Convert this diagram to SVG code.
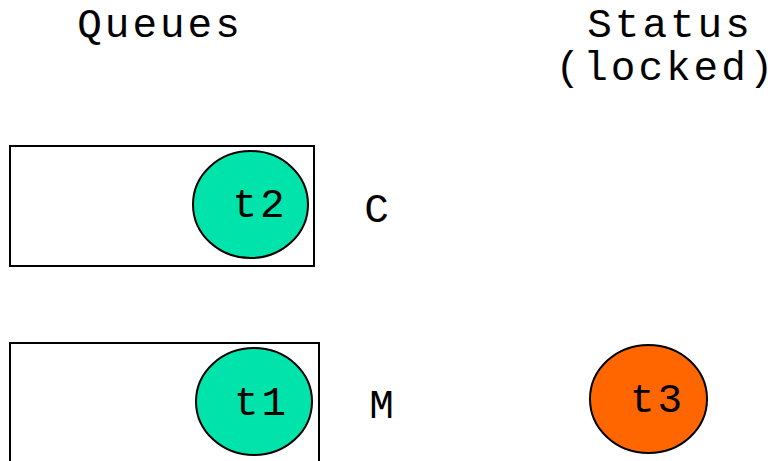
<svg xmlns="http://www.w3.org/2000/svg" width="777" height="461" viewBox="0 0 777 461">
  <style>
    .lbl { font-family: "Liberation Mono", "Courier New", monospace; font-size: 41px; letter-spacing: 3px; fill: #000; text-anchor: middle; }
    .queue { fill: #fff; stroke: #000; stroke-width: 2; }
    .tok { stroke: #000; stroke-width: 2; }
    .wait { fill: #00E3AA; }
    .held { fill: #FF6600; }
  </style>
  <rect width="777" height="461" fill="#fff"/>

  <!-- column headings (x shifted by half the letter-spacing) -->
  <g id="heading-queues">
    <text class="lbl" x="160" y="37">Queues</text>
  </g>
  <g id="heading-status">
    <text class="lbl" x="670" y="37">Status</text>
    <text class="lbl" x="666" y="80">(locked)</text>
  </g>

  <!-- queue C -->
  <g id="queue-c">
    <rect class="queue" x="10" y="146" width="304" height="120"/>
    <text class="lbl" x="378" y="222">C</text>
  </g>
  <g id="t2">
    <ellipse class="tok wait" cx="250.5" cy="204.5" rx="57.5" ry="53.5"/>
    <text class="lbl" x="260" y="217">t2</text>
  </g>

  <!-- queue M -->
  <g id="queue-m">
    <rect class="queue" x="10" y="343" width="309" height="140"/>
    <text class="lbl" x="383" y="418">M</text>
  </g>
  <g id="t1">
    <ellipse class="tok wait" cx="254" cy="401.5" rx="58" ry="53.5"/>
    <text class="lbl" x="261.5" y="415">t1</text>
  </g>

  <!-- lock holder -->
  <g id="t3">
    <ellipse class="tok held" cx="648.5" cy="399" rx="58.5" ry="54"/>
    <text class="lbl" x="657.5" y="412">t3</text>
  </g>

  <g id="connectors"/>
</svg>
